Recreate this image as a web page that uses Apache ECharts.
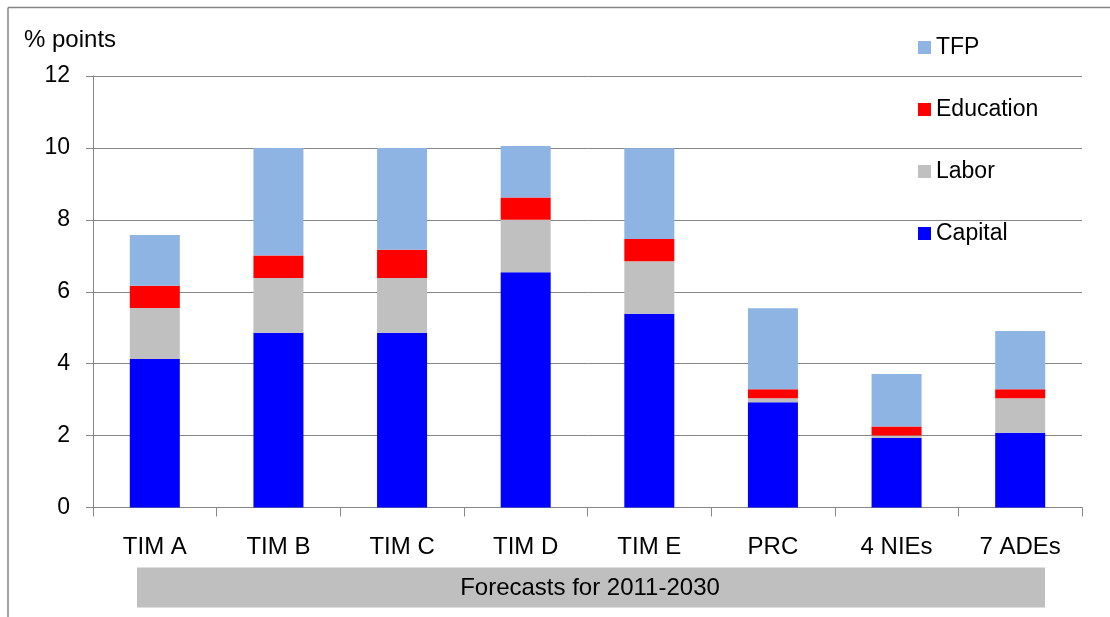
<!DOCTYPE html>
<html>
<head>
<meta charset="utf-8">
<script src="https://cdn.jsdelivr.net/npm/echarts@6/dist/echarts.min.js"></script>
<style>
  html, body { margin: 0; padding: 0; background: #ffffff; }
  #chart { width: 1110px; height: 617px; }
</style>
</head>
<body>
<div id="chart"></div>
<script>
// Growth decomposition, % points per year
const categories = ['TIM A', 'TIM B', 'TIM C', 'TIM D', 'TIM E', 'PRC', '4 NIEs', '7 ADEs'];
const capital   = [4.13, 4.86, 4.86, 6.54, 5.39, 2.93, 1.93, 2.08];
const labor     = [1.42, 1.52, 1.52, 1.46, 1.46, 0.11, 0.07, 0.96];
const education = [0.62, 0.63, 0.79, 0.62, 0.62, 0.25, 0.25, 0.25];
const tfp       = [1.41, 2.99, 2.83, 1.43, 2.52, 2.25, 1.46, 1.62];
const yTicks    = [0, 2, 4, 6, 8, 10, 12];
const legendOrder = ['TFP', 'Education', 'Labor', 'Capital'];

const FONT = 'Liberation Sans, Arial, sans-serif';
const AXIS_GRAY = '#868686';

const chart = echarts.init(document.getElementById('chart'), null, { renderer: 'canvas' });

function bar(name, data, color) {
  return {
    name: name,
    type: 'bar',
    stack: 'total',
    data: data,
    barWidth: 50,
    itemStyle: { color: color },
    emphasis: { disabled: true }
  };
}

chart.setOption({
  animation: false,
  backgroundColor: '#ffffff',
  textStyle: { fontFamily: FONT },
  grid: {
    left: 93, top: 76, width: 989, height: 431.5,
    containLabel: false, outerBoundsMode: 'none'
  },
  legend: {
    orient: 'vertical',
    left: 918, top: 36,
    padding: 0,
    itemWidth: 13, itemHeight: 13,
    itemGap: 39,
    icon: 'rect',
    data: legendOrder,
    selectedMode: false,
    textStyle: { fontSize: 23, lineHeight: 23, color: '#000', fontFamily: FONT }
  },
  xAxis: {
    type: 'category',
    data: categories,
    boundaryGap: true,
    axisLine: { lineStyle: { color: AXIS_GRAY, width: 1 } },
    axisTick: { show: true, length: 9, alignWithLabel: false, lineStyle: { color: AXIS_GRAY } },
    axisLabel: { margin: 28, fontSize: 24, lineHeight: 24, color: '#000', fontFamily: FONT, interval: 0 }
  },
  yAxis: {
    type: 'value',
    min: yTicks[0], max: yTicks[yTicks.length - 1], interval: 2,
    axisLine: { show: true, lineStyle: { color: AXIS_GRAY, width: 1 } },
    axisTick: { show: true, length: 7, lineStyle: { color: AXIS_GRAY } },
    axisLabel: { margin: 23, fontSize: 23, color: '#000', fontFamily: FONT },
    splitLine: { show: true, lineStyle: { color: AXIS_GRAY, width: 1 } }
  },
  series: [
    bar('Capital', capital, '#0000FF'),
    bar('Labor', labor, '#C0C0C0'),
    bar('Education', education, '#FF0000'),
    bar('TFP', tfp, '#8EB4E3')
  ],
  graphic: [
    // frame along the top and left edges
    { type: 'line', shape: { x1: 8, y1: 7.5, x2: 1110, y2: 7.5 }, style: { stroke: AXIS_GRAY, lineWidth: 1.5 }, silent: true },
    { type: 'line', shape: { x1: 8, y1: 7.5, x2: 8, y2: 617 }, style: { stroke: AXIS_GRAY, lineWidth: 1.5 }, silent: true },
    // axis unit
    { type: 'text', left: 24, top: 28, style: { text: '% points', fontSize: 24, fill: '#000', fontFamily: FONT }, silent: true },
    // forecast band under the categories
    { type: 'rect', shape: { x: 137, y: 567.5, width: 908, height: 40 }, style: { fill: '#BFBFBF' }, silent: true },
    { type: 'text', x: 590, y: 588, style: { text: 'Forecasts for 2011-2030', fontSize: 24, fill: '#000', fontFamily: FONT, align: 'center', verticalAlign: 'middle' }, silent: true }
  ]
});
</script>
</body>
</html>
